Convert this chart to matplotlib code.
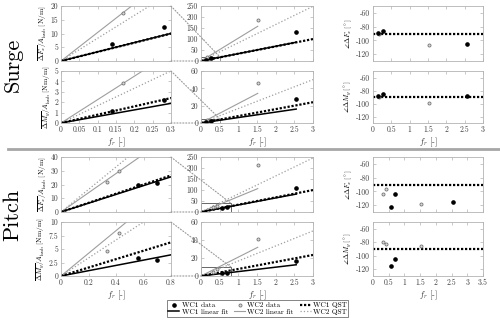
import matplotlib
matplotlib.use('Agg')
import matplotlib.pyplot as plt
import matplotlib.patches as patches
from matplotlib.patches import ConnectionPatch
from matplotlib.lines import Line2D
from matplotlib.ticker import FuncFormatter
import numpy as np

plt.rcParams['font.family'] = ['cmr10', 'DejaVu Serif']
plt.rcParams['mathtext.fontset'] = 'cm'
plt.rcParams['font.size'] = 5.5

# ---- surge data ----
fr_wc1_surge = [0.14, 0.28, 2.55]
fr_wc2_surge = [0.17, 1.52]
Fx_wc1_surge = [6.2, 12.2, 130]
Fx_wc2_surge = [17.5, 186]
My_wc1_surge = [1.15, 2.25, 28]
My_wc2_surge = [3.85, 46.6]
phF_wc1_surge = [-88.5, -86.5, -105]
phF_wc2_surge = [-90.5, -106]
phM_wc1_surge = [-89, -86, -89]
phM_wc2_surge = [-90, -98.5]
# slopes: WC1 fit, WC1 QST, WC2 fit, WC2 QST
kF_surge = [33.5, 33.3, 104, 83]
kM_surge = [6.3, 8.0, 22.5, 16.7]

# ---- pitch data ----
fr_wc1_pitch = [0.56, 0.70, 2.55]
fr_wc2_pitch = [0.334, 0.42, 1.52]
Fx_wc1_pitch = [20.0, 20.8, 108]
Fx_wc2_pitch = [21.5, 29.5, 213]
My_wc1_pitch = [3.3, 3.0, 16.2]
My_wc2_pitch = [4.7, 7.95, 41.5]
phF_wc1_pitch = [-122, -104.5, -116]
phF_wc2_pitch = [-104.5, -96.5, -118]
phM_wc1_pitch = [-115, -105, np.nan]
phM_wc2_pitch = [-80, -82.5, -85]
kF_pitch = [32, 33.3, 70, 82]
kM_pitch = [4.9, 7.8, 21, 16.7]

qst_phase = -90

EDGE = '0.7'
GRAY = '0.62'
MS1, MS2 = 2.3, 2.2
fmt = FuncFormatter(lambda v, p: '%g' % v)


def style(ax, xlim, ylim, xticks, yticks, xlab=True):
    ax.set_xlim(*xlim)
    ax.set_ylim(*ylim)
    ax.set_xticks(xticks)
    ax.set_yticks(yticks)
    ax.xaxis.set_major_formatter(fmt)
    ax.yaxis.set_major_formatter(fmt)
    ax.tick_params(direction='in', length=2, width=0.5, color=EDGE,
                   labelcolor='0.25', labelsize=5.5, pad=2,
                   top=True, right=True)
    for s in ax.spines.values():
        s.set_color(EDGE)
        s.set_linewidth(0.6)
    if xlab:
        ax.set_xlabel('$f_r$ [-]', fontsize=6, labelpad=1, color='0.2')
    else:
        ax.set_xticklabels([])


def amp(ax, fr1, y1, fr2, y2, k, xend):
    x1 = np.array([0, max(fr1)])
    x2 = np.array([0, max(fr2)])
    xq = np.array([0, xend])
    ax.plot(xq, k[3] * xq, ls=':', color=GRAY, lw=0.9)
    ax.plot(x2, k[2] * x2, '-', color=GRAY, lw=0.8)
    ax.plot(x1, k[0] * x1, '-', color='k', lw=1.1)
    ax.plot(xq, k[1] * xq, ls=(0, (1, 0.8)), color='k', lw=1.6)
    ax.plot(fr2, y2, 'o', ms=MS2, mfc='0.85', mec='0.45', mew=0.6)
    ax.plot(fr1, y1, 'o', ms=MS1, color='k')


def phase(ax, fr1, y1, fr2, y2, xend):
    ax.plot([0, xend], [qst_phase, qst_phase], ls=(0, (1, 0.8)), color='k', lw=1.6)
    ax.plot(fr2, y2, 'o', ms=MS2, mfc='0.85', mec='0.45', mew=0.6)
    ax.plot(fr1, y1, 'o', ms=MS1, color='k')


def link(fig, axL, axM, xw, yh, rw):
    axM.add_patch(patches.Rectangle((0, 0), rw, yh, fill=False, ec='0.3', lw=0.6))
    for a, b in [((xw, yh), (rw, yh)), ((xw, 0), (0, 0))]:
        con = ConnectionPatch(xyA=a, coordsA='data', axesA=axL,
                              xyB=b, coordsB='data', axesB=axM,
                              color='0.6', ls=':', lw=0.8)
        fig.add_artist(con)


fig = plt.figure(figsize=(5, 3.25), dpi=100)

xL, wL = 0.122, 0.22
xM, wM = 0.402, 0.224
xR, wR = 0.746, 0.22
rows = {'st': (0.8123, 0.169), 'sb': (0.6215, 0.160),
        'pt': (0.3477, 0.169), 'pb': (0.1508, 0.166)}

axes = {}
for r, (b, h) in rows.items():
    axes[r] = [fig.add_axes([xL, b, wL, h]),
               fig.add_axes([xM, b, wM, h]),
               fig.add_axes([xR, b, wR, h])]

lblF = r'$\overline{\Delta F_x}/A_{\rm hub}$ [N/m]'
lblM = r'$\overline{\Delta M_y}/A_{\rm hub}$ [Nm/m]'
lblPF = r'$\angle\Delta F_x\,[^\circ]$'
lblPM = r'$\angle\Delta M_y\,[^\circ]$'
LFS = 5.3

# surge
a = axes['st']
amp(a[0], fr_wc1_surge, Fx_wc1_surge, fr_wc2_surge, Fx_wc2_surge, kF_surge, 3)
amp(a[1], fr_wc1_surge, Fx_wc1_surge, fr_wc2_surge, Fx_wc2_surge, kF_surge, 3)
phase(a[2], fr_wc1_surge, phF_wc1_surge, fr_wc2_surge, phF_wc2_surge, 3)
style(a[0], (0, 0.3), (0, 20), np.arange(0, 0.31, 0.05), range(0, 21, 5), False)
style(a[1], (0, 3), (0, 250), np.arange(0, 3.1, 0.5), range(0, 251, 50), False)
style(a[2], (0, 3), (-130, -50), np.arange(0, 3.1, 0.5), [-120, -100, -80, -60], False)
a[0].set_ylabel(lblF, fontsize=LFS, labelpad=1)
a[2].set_ylabel(lblPF, fontsize=LFS, labelpad=1)
link(fig, a[0], a[1], 0.3, 20, 0.5)

a = axes['sb']
amp(a[0], fr_wc1_surge, My_wc1_surge, fr_wc2_surge, My_wc2_surge, kM_surge, 3)
amp(a[1], fr_wc1_surge, My_wc1_surge, fr_wc2_surge, My_wc2_surge, kM_surge, 3)
phase(a[2], fr_wc1_surge, phM_wc1_surge, fr_wc2_surge, phM_wc2_surge, 3)
style(a[0], (0, 0.3), (0, 5), np.arange(0, 0.31, 0.05), range(0, 6))
style(a[1], (0, 3), (0, 60), np.arange(0, 3.1, 0.5), range(0, 61, 20))
style(a[2], (0, 3), (-130, -50), np.arange(0, 3.1, 0.5), [-120, -100, -80, -60])
a[0].set_ylabel(lblM, fontsize=LFS, labelpad=1)
a[2].set_ylabel(lblPM, fontsize=LFS, labelpad=1)
link(fig, a[0], a[1], 0.3, 5, 0.5)

# pitch
a = axes['pt']
amp(a[0], fr_wc1_pitch, Fx_wc1_pitch, fr_wc2_pitch, Fx_wc2_pitch, kF_pitch, 3)
amp(a[1], fr_wc1_pitch, Fx_wc1_pitch, fr_wc2_pitch, Fx_wc2_pitch, kF_pitch, 3)
phase(a[2], fr_wc1_pitch, phF_wc1_pitch, fr_wc2_pitch, phF_wc2_pitch, 3.5)
style(a[0], (0, 0.8), (0, 40), np.arange(0, 0.81, 0.2), range(0, 41, 10), False)
style(a[1], (0, 3), (0, 250), np.arange(0, 3.1, 0.5), range(0, 251, 50), False)
style(a[2], (0, 3.5), (-130, -50), np.arange(0, 3.6, 0.5), [-120, -100, -80, -60], False)
a[0].set_ylabel(lblF, fontsize=LFS, labelpad=1)
a[2].set_ylabel(lblPF, fontsize=LFS, labelpad=1)
link(fig, a[0], a[1], 0.8, 40, 0.8)

a = axes['pb']
amp(a[0], fr_wc1_pitch, My_wc1_pitch, fr_wc2_pitch, My_wc2_pitch, kM_pitch, 3)
amp(a[1], fr_wc1_pitch, My_wc1_pitch, fr_wc2_pitch, My_wc2_pitch, kM_pitch, 3)
phase(a[2], fr_wc1_pitch, phM_wc1_pitch, fr_wc2_pitch, phM_wc2_pitch, 3.5)
style(a[0], (0, 0.8), (0, 10), np.arange(0, 0.81, 0.2), [0, 2.5, 5, 7.5, 10])
style(a[1], (0, 3), (0, 60), np.arange(0, 3.1, 0.5), range(0, 61, 20))
style(a[2], (0, 3.5), (-130, -50), np.arange(0, 3.6, 0.5), [-120, -100, -80, -60])
a[0].set_ylabel(lblM, fontsize=LFS, labelpad=1)
a[2].set_ylabel(lblPM, fontsize=LFS, labelpad=1)
link(fig, a[0], a[1], 0.8, 10, 0.8)

# block titles and separator
fig.text(0.026, 0.80, 'Surge', rotation=90, fontsize=16, ha='center', va='center')
fig.text(0.026, 0.34, 'Pitch', rotation=90, fontsize=16, ha='center', va='center')
fig.add_artist(Line2D([0.016, 1.0], [1 - 149 / 325] * 2, color='0.65', lw=2,
                      transform=fig.transFigure))

handles = [
    Line2D([], [], ls='none', marker='o', ms=MS1, color='k'),
    Line2D([], [], color='k', lw=1.1),
    Line2D([], [], ls='none', marker='o', ms=MS2, mfc='0.85', mec='0.45', mew=0.6),
    Line2D([], [], color=GRAY, lw=0.8),
    Line2D([], [], ls=(0, (1, 0.8)), color='k', lw=1.6),
    Line2D([], [], ls=':', color=GRAY, lw=0.9),
]
labels = ['WC1 data', 'WC1 linear fit', 'WC2 data', 'WC2 linear fit', 'WC1 QST', 'WC2 QST']
leg = fig.legend(handles, labels, ncol=3, loc='center', bbox_to_anchor=(0.515, 0.051),
                 fancybox=False, edgecolor='0.3', fontsize=5.3, handlelength=1.5,
                 columnspacing=0.8, handletextpad=0.3, borderpad=0.25, labelspacing=0.05,
                 borderaxespad=0)
leg.get_frame().set_linewidth(0.6)

fig.savefig('out.png', dpi=100)
